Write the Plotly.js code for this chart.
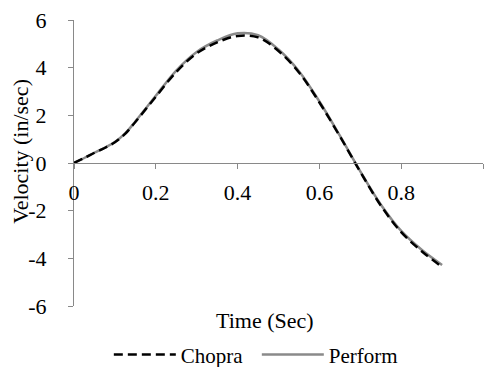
<!DOCTYPE html>
<html>
<head>
<meta charset="utf-8">
<script src="https://cdn.plot.ly/plotly-3.0.1.min.js"></script>
<style>
  html, body { margin: 0; padding: 0; background: #fff; }
  #chart { width: 487px; height: 367px; }
  /* serif face for every chart label (also applies to Plotly's text-measuring svg) */
  svg text { font-family: 'Liberation Serif', 'Times New Roman', serif !important; }
</style>
</head>
<body>
<div id="chart"></div>
<script>
// Time samples (s)
const timeSec = [0, 0.025, 0.05, 0.075, 0.1, 0.125, 0.15, 0.175, 0.2, 0.25, 0.3, 0.35, 0.4, 0.45, 0.5, 0.55, 0.6, 0.65, 0.7, 0.75, 0.8, 0.85, 0.9];
// Velocity response (in/sec)
const chopraVel  = [0, 0.21, 0.43, 0.63, 0.87, 1.22, 1.72, 2.25, 2.78, 3.82, 4.60, 5.06, 5.33, 5.27, 4.70, 3.80, 2.54, 1.12, -0.37, -1.78, -2.90, -3.70, -4.36];
const performVel = [0, 0.21, 0.43, 0.64, 0.88, 1.24, 1.74, 2.28, 2.82, 3.88, 4.66, 5.14, 5.44, 5.36, 4.76, 3.85, 2.58, 1.15, -0.35, -1.74, -2.85, -3.64, -4.28];

const xTicks = [0, 0.2, 0.4, 0.6, 0.8, 1];
const yTicks = [-6, -4, -2, 0, 2, 4, 6];
const yTickText = ['-6', '-4', '-2', '0', '2', '4', '6'];

const axisGray = '#898989';
const textColor = '#000000';
const face = 'Liberation Serif';

const traces = [
  {
    x: timeSec, y: performVel, name: 'Perform', type: 'scatter', mode: 'lines',
    line: { color: '#8a8a8a', width: 2.5, shape: 'spline', smoothing: 1 },
    legendrank: 2
  },
  {
    x: timeSec, y: chopraVel, name: 'Chopra', type: 'scatter', mode: 'lines',
    line: { color: '#000000', width: 2.5, dash: '9px,5px', shape: 'spline', smoothing: 1 },
    legendrank: 1
  }
];

const layout = {
  width: 487, height: 367,
  margin: { l: 74, r: 4, t: 20, b: 61 },
  paper_bgcolor: '#ffffff', plot_bgcolor: '#ffffff',
  font: { family: face, size: 22, color: textColor },
  showlegend: true,
  legend: {
    orientation: 'h', x: 0.447, xanchor: 'center', xref: 'paper',
    yref: 'container', y: 0.033, yanchor: 'middle',
    itemwidth: 62, entrywidth: 71, entrywidthmode: 'pixels',
    font: { family: face, size: 21, color: textColor }
  },
  xaxis: {
    range: [0, 1], tickvals: xTicks, anchor: 'free', position: 0.5,
    showline: true, linecolor: axisGray, linewidth: 1,
    ticks: 'outside', ticklen: 5, tickcolor: axisGray, ticklabelstandoff: 5,
    showgrid: false, zeroline: false,
    tickfont: { family: face, size: 22, color: textColor }
  },
  yaxis: {
    range: [-6, 6], tickvals: yTicks, ticktext: yTickText,
    showline: true, linecolor: axisGray, linewidth: 1,
    ticks: 'outside', ticklen: 5, tickcolor: axisGray, ticklabelstandoff: 17,
    showgrid: false, zeroline: false,
    tickfont: { family: face, size: 22, color: textColor }
  },
  annotations: [
    { text: 'Time (Sec)', xref: 'paper', yref: 'paper', x: 0.466, y: -0.05,
      xanchor: 'center', yanchor: 'middle', showarrow: false,
      font: { family: face, size: 22, color: textColor } },
    { text: 'Velocity (in/sec)', xref: 'paper', yref: 'paper', x: -0.13, y: 0.542,
      xanchor: 'center', yanchor: 'middle', textangle: -90, showarrow: false,
      font: { family: face, size: 22, color: textColor } }
  ]
};

Plotly.newPlot('chart', traces, layout, { staticPlot: true, displayModeBar: false });
</script>
</body>
</html>
